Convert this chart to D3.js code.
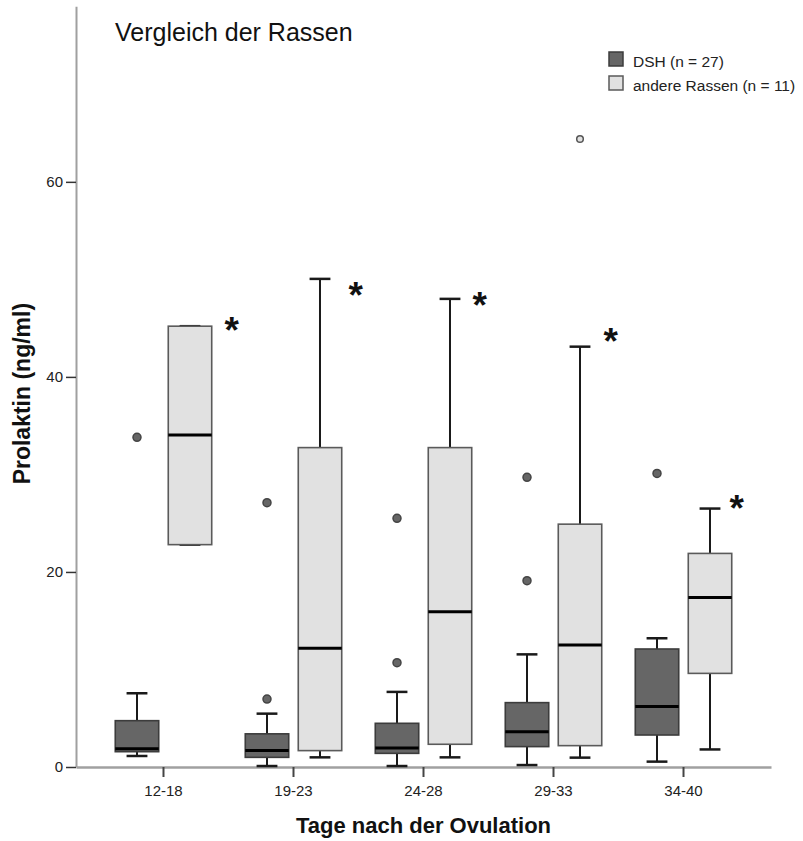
<!DOCTYPE html>
<html lang="de">
<head>
<meta charset="utf-8">
<script src="https://cdn.jsdelivr.net/npm/d3@7"></script>
<style>
  html, body { margin: 0; padding: 0; background: #fff; }
  svg { display: block; font-family: Arial, "Liberation Sans", sans-serif; }
</style>
</head>
<body>
<svg id="chart" width="803" height="841"></svg>
<script>
// Zeitfenster (Tage nach der Ovulation)
const categories = ["12-18", "19-23", "24-28", "29-33", "34-40"];
const groups = ["DSH (n = 27)", "andere Rassen (n = 11)"];
const yTicks = [0, 20, 40, 60];

// Boxplot-Kennwerte DSH: unterer Whisker, Q1, Median, Q3, oberer Whisker
const dshLow    = [1.13, 0.10, 0.10, 0.20, 0.55];
const dshQ1     = [1.57, 0.99, 1.40, 2.09, 3.28];
const dshMedian = [1.88, 1.68, 1.95, 3.62, 6.20];
const dshQ3     = [4.75, 3.40, 4.48, 6.60, 12.10];
const dshHigh   = [7.56, 5.47, 7.70, 11.55, 13.20];
const dshOutliers = [[33.8], [6.97, 27.1], [10.7, 25.5], [19.1, 29.7], [30.1]];

// Boxplot-Kennwerte andere Rassen
const otherLow    = [22.8, 0.99, 0.99, 0.96, 1.80];
const otherQ1     = [22.8, 1.68, 2.33, 2.19, 9.60];
const otherMedian = [34.05, 12.17, 15.93, 12.50, 17.37];
const otherQ3     = [45.2, 32.75, 32.75, 24.90, 21.90];
const otherHigh   = [45.2, 50.05, 48.00, 43.10, 26.50];
const otherOutliers = [[], [], [], [64.4], []];

// Signifikanz-Sternchen je Zeitfenster
const significant = [true, true, true, true, true];

// Feinplatzierung der Sternchen neben der hellen Box [dx vom Boxrand, dy vom Whiskerende]
const starNudge = [[20, -3], [14, 9], [8, -1], [9, -13], [5, -8]];

const svg = d3.select("#chart");

const x = d3.scaleBand().domain(categories).range([76, 771])
  .paddingInner(0).paddingOuter(0.173);
const xSub = d3.scaleBand().domain(groups).range([12, 118]).padding(0);
const y = d3.scaleLinear().domain([0, 78]).range([767, 6.3]);

const boxW = xSub.bandwidth() * 0.82;
const capW = boxW * 0.48;

const styles = {
  [groups[0]]: { fill: "#666666", stroke: "#3c3c3c", outFill: "#666666", outStroke: "#444444" },
  [groups[1]]: { fill: "#e1e1e1", stroke: "#5a5a5a", outFill: "#e1e1e1", outStroke: "#555555" }
};

const series = [
  { key: groups[0], low: dshLow, q1: dshQ1, med: dshMedian, q3: dshQ3, high: dshHigh, out: dshOutliers },
  { key: groups[1], low: otherLow, q1: otherQ1, med: otherMedian, q3: otherQ3, high: otherHigh, out: otherOutliers }
];

const boxes = [];
series.forEach(s => categories.forEach((c, i) => boxes.push({
  cat: c, key: s.key, low: s.low[i], q1: s.q1[i], med: s.med[i], q3: s.q3[i], high: s.high[i], out: s.out[i]
})));

// Achsen
const yAxis = svg.append("g").attr("transform", "translate(76,0)")
  .call(d3.axisLeft(y).tickValues(yTicks).tickSize(10).tickPadding(3).tickSizeOuter(0));
yAxis.select(".domain").attr("stroke", "#a0a0a0").attr("stroke-width", 2);
yAxis.selectAll(".tick line").attr("stroke", "#333").attr("stroke-width", 1.5);
yAxis.selectAll(".tick text").attr("font-size", 15).attr("fill", "#222")
  .attr("font-family", "Arial, 'Liberation Sans', sans-serif");

const xAxis = svg.append("g").attr("transform", `translate(0,${y(0)})`)
  .call(d3.axisBottom(x).tickSize(10).tickPadding(8).tickSizeOuter(0));
xAxis.select(".domain").attr("stroke", "#a0a0a0").attr("stroke-width", 2.5);
xAxis.selectAll(".tick line").attr("stroke", "#444").attr("stroke-width", 2);
xAxis.selectAll(".tick text").attr("font-size", 15).attr("fill", "#222")
  .attr("font-family", "Arial, 'Liberation Sans', sans-serif");

// Boxplots
const g = svg.append("g");
const box = g.selectAll("g.box").data(boxes).join("g").attr("class", "box")
  .attr("transform", d => `translate(${x(d.cat) + xSub(d.key) + xSub.bandwidth() / 2},0)`);

box.append("line").attr("x1", 0).attr("x2", 0)
  .attr("y1", d => y(d.low)).attr("y2", d => y(d.high))
  .attr("stroke", "#1a1a1a").attr("stroke-width", 2);
box.append("line").attr("x1", -capW / 2).attr("x2", capW / 2)
  .attr("y1", d => y(d.low)).attr("y2", d => y(d.low))
  .attr("stroke", "#1a1a1a").attr("stroke-width", 2.5);
box.append("line").attr("x1", -capW / 2).attr("x2", capW / 2)
  .attr("y1", d => y(d.high)).attr("y2", d => y(d.high))
  .attr("stroke", "#1a1a1a").attr("stroke-width", 2.5);
box.append("rect")
  .attr("x", -boxW / 2).attr("width", boxW)
  .attr("y", d => y(d.q3)).attr("height", d => y(d.q1) - y(d.q3))
  .attr("fill", d => styles[d.key].fill)
  .attr("stroke", d => styles[d.key].stroke).attr("stroke-width", 1.6);
box.append("line").attr("x1", -boxW / 2).attr("x2", boxW / 2)
  .attr("y1", d => y(d.med)).attr("y2", d => y(d.med))
  .attr("stroke", "#000").attr("stroke-width", 3);
box.selectAll("circle").data(d => d.out.map(v => ({ v, key: d.key }))).join("circle")
  .attr("cx", 0).attr("cy", d => y(d.v))
  .attr("r", d => d.key === groups[0] ? 4 : 3.3)
  .attr("fill", d => styles[d.key].outFill)
  .attr("stroke", d => styles[d.key].outStroke).attr("stroke-width", 1.5);

// Sternchen
svg.append("g").selectAll("text").data(categories.filter((c, i) => significant[i]))
  .join("text")
  .attr("x", c => {
    const i = categories.indexOf(c);
    return x(c) + xSub(groups[1]) + xSub.bandwidth() / 2 + boxW / 2 + starNudge[i][0];
  })
  .attr("y", c => {
    const i = categories.indexOf(c);
    return y(otherHigh[i]) + starNudge[i][1] + 20;
  })
  .attr("text-anchor", "middle")
  .attr("font-size", 37).attr("font-weight", "bold").attr("fill", "#111")
  .text("*");

// Titel
svg.append("text").attr("x", 115).attr("y", 41)
  .attr("font-size", 25).attr("fill", "#111").text("Vergleich der Rassen");

// Achsentitel
svg.append("text")
  .attr("transform", `translate(29.5,${(y(0) + y(78)) / 2 + 7}) rotate(-90)`)
  .attr("text-anchor", "middle").attr("font-size", 23).attr("font-weight", "bold")
  .attr("fill", "#111").text("Prolaktin (ng/ml)");
svg.append("text").attr("x", (76 + 771) / 2).attr("y", 833)
  .attr("text-anchor", "middle").attr("font-size", 22).attr("font-weight", "bold")
  .attr("fill", "#111").text("Tage nach der Ovulation");

// Legende
const legend = svg.append("g").attr("transform", "translate(609,52)");
const item = legend.selectAll("g").data(groups).join("g")
  .attr("transform", (d, i) => `translate(0,${i * 24})`);
item.append("rect").attr("x", 0).attr("y", 0).attr("width", 14).attr("height", 14)
  .attr("fill", d => styles[d].fill).attr("stroke", d => styles[d].stroke).attr("stroke-width", 1.5);
item.append("text").attr("x", 24).attr("y", 15).attr("font-size", 15.5).attr("fill", "#222")
  .text(d => d);
</script>
</body>
</html>
